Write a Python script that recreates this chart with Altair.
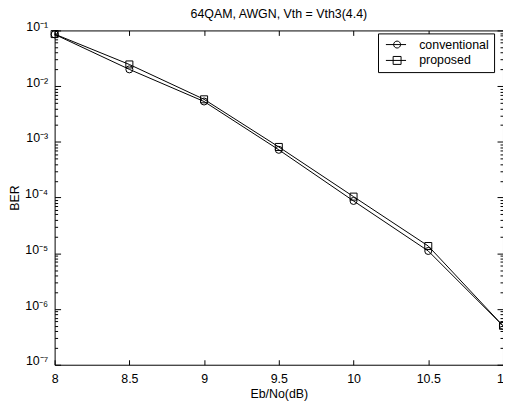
import altair as alt
import pandas as pd

# ---- data ----
ebno = [8, 8.5, 9, 9.5, 10, 10.5, 11]
ber_conventional = [0.085, 0.020, 0.0053, 7.2e-4, 8.7e-5, 1.1e-5, 5.0e-7]
ber_proposed = [0.086, 0.0245, 0.0058, 8.1e-4, 1.04e-4, 1.35e-5, 5.0e-7]
series_names = ["conventional", "proposed"]

x_ticks = [8, 8.5, 9, 9.5, 10, 10.5, 11]
y_major = [1e-7, 1e-6, 1e-5, 1e-4, 1e-3, 1e-2, 1e-1]
y_labels = ["10⁻⁷", "10⁻⁶", "10⁻⁵", "10⁻⁴", "10⁻³", "10⁻²", "10⁻¹"]
y_minor = [m * 10.0 ** k for k in range(-7, -1) for m in range(2, 10)]

title_text = "64QAM, AWGN, Vth = Vth3(4.4)"
x_title = "Eb/No(dB)"
y_title = "BER"

df = pd.DataFrame(
    {
        "ebno": ebno * 2,
        "ber": ber_conventional + ber_proposed,
        "series": [series_names[0]] * len(ebno) + [series_names[1]] * len(ebno),
    }
)

W, H = 452, 337
FONT = "Liberation Sans"
FS = 12.5

xscale = alt.Scale(domain=[8, 11], nice=False, zero=False)
yscale = alt.Scale(type="log", domain=[1e-7, 1e-1], nice=False)

label_expr = "[" + ",".join("'%s'" % s for s in y_labels) + "][round(log(datum.value)/LN10)+7]"
major_test = "abs(log(datum.value)/LN10 - round(log(datum.value)/LN10)) < 1e-6"

common = dict(labelFont=FONT, labelFontSize=FS, labelColor="black", titleFont=FONT,
              titleFontSize=FS, titleFontWeight="normal", titleColor="black",
              tickColor="black", tickWidth=1, grid=False, domain=False)

# labelled axes
x_lab = alt.Axis(values=x_ticks, format="~g", ticks=False, labelPadding=8,
                 title=x_title, titlePadding=3, labelFlush=False, **common)
y_lab = alt.Axis(values=y_major, labelExpr=label_expr, ticks=False, labelPadding=7,
                 labelBaseline="alphabetic", title=y_title, titlePadding=3, **common)

# inner tick axes (MATLAB style: ticks pointing into the box)
x_in_bottom = alt.Axis(orient="top", offset=-H, values=x_ticks, labels=False,
                       tickSize=5, title=None, **common)
x_in_top = alt.Axis(orient="bottom", offset=-H, values=x_ticks, labels=False,
                    tickSize=5, title=None, **common)
y_size = {"condition": {"test": major_test, "value": 6}, "value": 3}
y_in_left = alt.Axis(orient="right", offset=-W, values=y_major + y_minor, labels=False,
                     tickSize=y_size, title=None, **common)
y_in_right = alt.Axis(orient="left", offset=-W, values=y_major + y_minor, labels=False,
                      tickSize=y_size, title=None, **common)

# legend glyphs: line with marker on it
circle_path = "M-0.66,0H3.4M0.9,0A0.7,0.7,0,1,0,2.3,0A0.7,0.7,0,1,0,0.9,0Z"
square_path = "M-0.66,0H3.4M0.8,-0.8H2.4V0.8H0.8Z"

legend = alt.Legend(
    title=None,
    orient="none",
    legendX=326,
    legendY=3,
    padding=5,
    strokeColor="black",
    fillColor="white",
    labelFont=FONT,
    labelFontSize=FS,
    labelColor="black",
    labelOffset=24,
    rowPadding=3,
    cornerRadius=0,
    symbolSize=100,
    symbolStrokeWidth=1,
    symbolStrokeColor="black",
    symbolFillColor="transparent",
    symbolOpacity=1,
)

lines = alt.Chart(df).mark_line(color="black", strokeWidth=1).encode(
    x=alt.X("ebno:Q", scale=xscale, axis=x_lab),
    y=alt.Y("ber:Q", scale=yscale, axis=y_lab),
    detail="series:N",
)

points = alt.Chart(df).mark_point(filled=False, color="black", size=50, strokeWidth=1, opacity=1).encode(
    x=alt.X("ebno:Q", scale=xscale, axis=x_in_bottom),
    y=alt.Y("ber:Q", scale=yscale, axis=y_in_left),
    shape=alt.Shape("series:N", scale=alt.Scale(domain=series_names, range=["circle", "square"]),
                    legend=None),
)

legend_layer = (
    alt.Chart(df)
    .transform_filter("datum.ebno < 0")
    .mark_point(filled=False, color="black", strokeWidth=1)
    .encode(
        x=alt.X("ebno:Q", scale=xscale, axis=x_in_top),
        y=alt.Y("ber:Q", scale=yscale, axis=y_in_right),
        shape=alt.Shape("series:N", scale=alt.Scale(domain=series_names, range=[circle_path, square_path]),
                        legend=legend),
    )
)

chart = (
    alt.layer(lines, points, legend_layer)
    .resolve_axis(x="independent", y="independent")
    .resolve_scale(shape="independent")
    .properties(
        width=W,
        height=H,
        background="white",
        autosize=alt.AutoSizeParams(type="none"),
        padding={"left": 47, "top": 21, "right": 0, "bottom": 40},
        title=alt.TitleParams(title_text, font=FONT, fontSize=FS, fontWeight="normal",
                              color="black", anchor="middle", offset=0),
    )
    .configure_view(stroke="black", strokeWidth=1)
)

chart.save("out.html", embed_options={"renderer": "svg", "actions": False})
